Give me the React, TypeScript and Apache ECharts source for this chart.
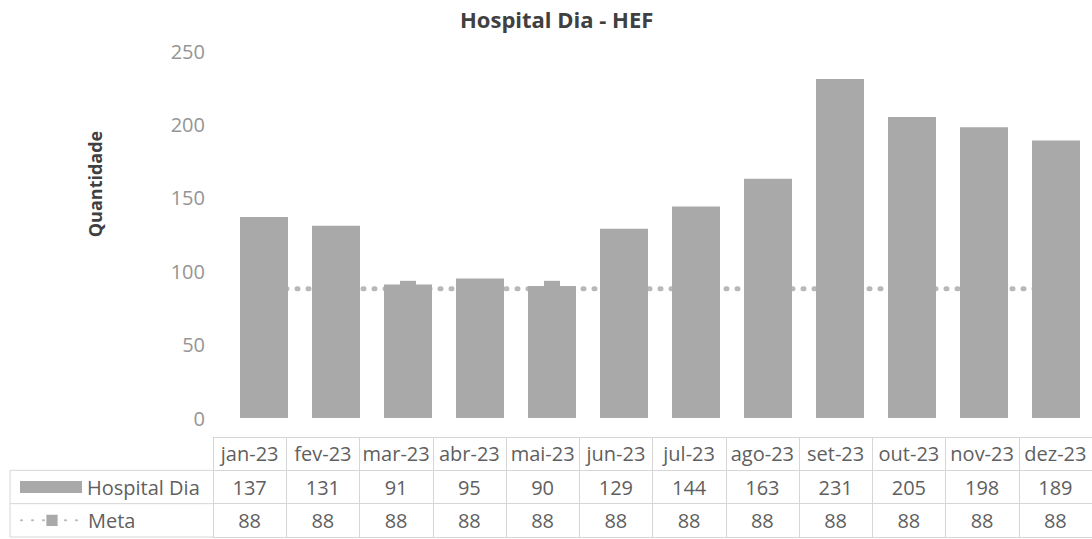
import React, { useEffect, useRef } from "react";
import * as echarts from "echarts";

const months = ["jan-23", "fev-23", "mar-23", "abr-23", "mai-23", "jun-23", "jul-23", "ago-23", "set-23", "out-23", "nov-23", "dez-23"];
const hospitalDia = [137, 131, 91, 95, 90, 129, 144, 163, 231, 205, 198, 189];
const meta = [88, 88, 88, 88, 88, 88, 88, 88, 88, 88, 88, 88];
const seriesNames = ["Hospital Dia", "Meta"];

const FONT = "'Open Sans', 'Noto Sans', sans-serif";
const BAR = "#a9a9a9";
const LINE = "#b8b8b8";
const BORDER = "#d6d6d6";
const TXT = "#5f5f5f";

// table layout
const T_LEFT = 213;
const T_TOP = 437;
const T_H = 100;
const T_W = 886;
const rowH = T_H / 3;

export default function App() {
  const ref = useRef<HTMLDivElement>(null);
  useEffect(() => {
    const chart = echarts.init(ref.current!, undefined, { renderer: "svg" });
    const legendBase = {
      orient: "horizontal",
      left: 20,
      padding: 0,
      itemWidth: 62,
      itemHeight: 12,
      itemGap: 6,
      selectedMode: false,
      textStyle: { fontFamily: FONT, fontSize: 20, color: TXT },
    };
    const option: any = {
      animation: false,
      backgroundColor: "#ffffff",
      title: {
        text: "Hospital Dia - HEF",
        left: 455,
        top: 3,
        textStyle: { fontFamily: FONT, fontSize: 22, fontWeight: "bold", color: "#404040" },
      },
      legend: [
        { ...legendBase, top: T_TOP + rowH * 1.5 - 10, icon: "rect", data: [seriesNames[0]] },
        { ...legendBase, top: T_TOP + rowH * 2.5 - 10, itemHeight: 14, data: [seriesNames[1]] },
      ],
      grid: [
        { left: 228, top: 51, width: 868, height: 367 },
        { left: T_LEFT, top: T_TOP, width: T_W, height: T_H },
      ],
      xAxis: [
        { gridIndex: 0, type: "category", data: months, show: false },
        {
          gridIndex: 1, type: "category", data: months, position: "top", offset: -rowH / 2,
          axisLine: { show: false }, axisTick: { show: false },
          axisLabel: { margin: 0, verticalAlign: "middle", fontFamily: FONT, fontSize: 20, color: TXT, interval: 0 },
          splitLine: { show: true, lineStyle: { color: BORDER, width: 1 } },
        },
        {
          gridIndex: 1, type: "category", data: months, position: "top", offset: -rowH * 1.5,
          axisLine: { show: false }, axisTick: { show: false },
          axisLabel: { margin: 0, verticalAlign: "middle", fontFamily: FONT, fontSize: 20, color: TXT, interval: 0,
            formatter: (_v: string, i: number) => String(hospitalDia[i]) },
        },
        {
          gridIndex: 1, type: "category", data: months, position: "top", offset: -rowH * 2.5,
          axisLine: { show: false }, axisTick: { show: false },
          axisLabel: { margin: 0, verticalAlign: "middle", fontFamily: FONT, fontSize: 20, color: TXT, interval: 0,
            formatter: (_v: string, i: number) => String(meta[i]) },
        },
      ],
      yAxis: [
        {
          gridIndex: 0, type: "value", min: 0, max: 250, interval: 50,
          axisLine: { show: false }, axisTick: { show: false }, splitLine: { show: false },
          axisLabel: { margin: 23, fontFamily: FONT, fontSize: 20, color: "#959595" },
        },
        {
          gridIndex: 1, type: "value", min: 0, max: 3, interval: 1, inverse: true,
          axisLine: { show: false }, axisTick: { show: false }, axisLabel: { show: false },
          splitLine: { show: true, lineStyle: { color: BORDER, width: 1 } },
        },
      ],
      graphic: [
        { type: "text", x: 95, y: 184, rotation: Math.PI / 2,
          style: { text: "Quantidade", font: `bold 18px ${FONT}`, fill: "#404040", align: "center", verticalAlign: "middle" } },
        { type: "line", shape: { x1: 10, y1: T_TOP + rowH, x2: T_LEFT, y2: T_TOP + rowH }, style: { stroke: BORDER, lineWidth: 1 } },
        { type: "line", shape: { x1: 10, y1: T_TOP + rowH * 2, x2: T_LEFT, y2: T_TOP + rowH * 2 }, style: { stroke: BORDER, lineWidth: 1 } },
        { type: "line", shape: { x1: 10, y1: T_TOP + T_H, x2: T_LEFT, y2: T_TOP + T_H }, style: { stroke: BORDER, lineWidth: 1 } },
        { type: "line", shape: { x1: 10, y1: T_TOP + rowH, x2: 10, y2: T_TOP + T_H }, style: { stroke: BORDER, lineWidth: 1 } },
      ],
      series: [
        {
          name: seriesNames[0], type: "bar", xAxisIndex: 0, yAxisIndex: 0, data: hospitalDia,
          barWidth: 48, itemStyle: { color: BAR }, z: 3,
        },
        {
          name: seriesNames[1], type: "line", xAxisIndex: 0, yAxisIndex: 0, data: meta,
          symbol: "rect", symbolSize: 16, itemStyle: { color: BAR },
          lineStyle: { color: LINE, width: 5, type: [1, 10], cap: "round" }, z: 2,
        },
      ],
    };
    chart.setOption(option);
    return () => chart.dispose();
  }, []);
  return <div ref={ref} style={{ position: "fixed", left: 0, top: 0, width: 1092, height: 539 }} />;
}
